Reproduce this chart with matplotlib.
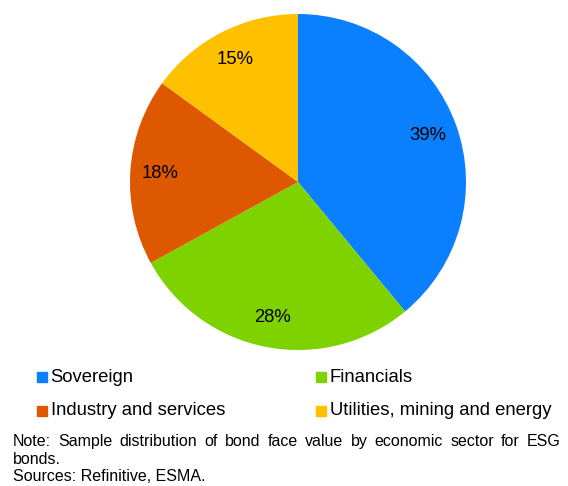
import matplotlib
matplotlib.use("Agg")
import matplotlib.pyplot as plt
from matplotlib.patches import Rectangle

categories = ["Sovereign", "Financials", "Industry and services", "Utilities, mining and energy"]
values = [39, 28, 18, 15]
colors = ["#0A80FF", "#7ED200", "#DD5800", "#FFC000"]
note_line1 = "Note: Sample distribution of bond face value by economic sector for ESG"
note_line2 = "bonds."
sources = "Sources: Refinitive, ESMA."

plt.rcParams['font.family'] = ['Liberation Sans', 'DejaVu Sans']

W, H = 568, 486
fig = plt.figure(figsize=(W/100, H/100), dpi=100)
cx, cy, r = 298, 182, 168
ax = fig.add_axes([(cx - r)/W, (H - cy - r)/H, 2*r/W, 2*r/H])
ax.pie(values, colors=colors, startangle=90, counterclock=False,
       autopct=lambda p: f"{p:.0f}%", pctdistance=0.82,
       textprops=dict(fontsize=13.3, color="black"),
       wedgeprops=dict(linewidth=0))
ax.set_xlim(-1, 1)
ax.set_ylim(-1, 1)
ax.set_aspect('auto')
ax.axis('off')

# legend
pos = [(37, 377), (316, 377), (37, 410.5), (316, 410.5)]
for (x, y), lab, c in zip(pos, categories, colors):
    s = 10
    fig.patches.append(Rectangle((x/W, (H - y - s/2)/H), s/W, s/H,
                                 transform=fig.transFigure, color=c, figure=fig))
    fig.text((x + 13.5)/W, (H - y)/H, lab, fontsize=13.3, va='center', ha='left')

# note, first line justified
fs = 11.5
x0, x1 = 13, 561
words = note_line1.split(" ")
fig.canvas.draw()
renderer = fig.canvas.get_renderer()
widths = []
for w in words:
    t = fig.text(0, 0, w, fontsize=fs)
    widths.append(t.get_window_extent(renderer).width)
    t.remove()
gap = (x1 - x0 - sum(widths)) / (len(words) - 1)
x = x0
for w, wd in zip(words, widths):
    fig.text(x/W, (H - 441)/H, w, fontsize=fs, va='center', ha='left')
    x += wd + gap
fig.text(x0/W, (H - 459)/H, note_line2, fontsize=fs, va='center', ha='left')
fig.text(x0/W, (H - 476.5)/H, sources, fontsize=fs, va='center', ha='left')

fig.savefig("out.png", dpi=100)
